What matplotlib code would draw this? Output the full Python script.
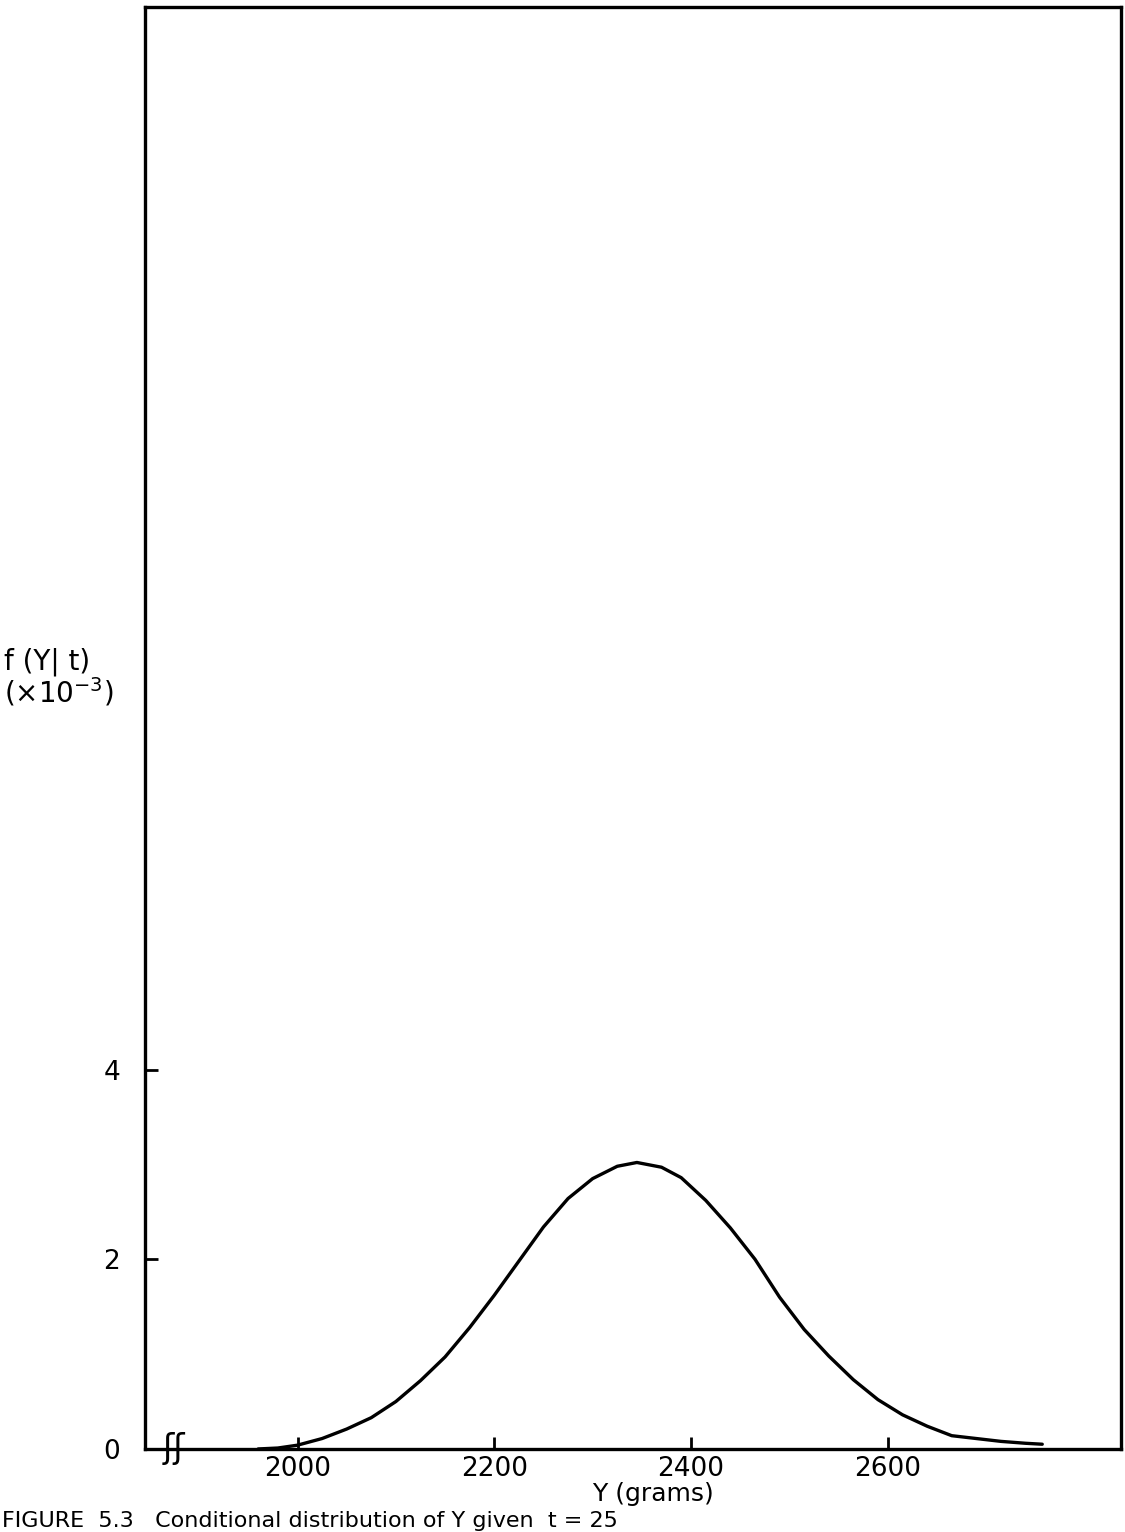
import matplotlib.pyplot as plt

# values (Y in grams, density x 10^-3)
y_grams = [1960, 1980, 2000, 2025, 2050, 2075, 2100, 2125, 2150, 2175,
           2200, 2225, 2250, 2275, 2300, 2325, 2345, 2370, 2390, 2415,
           2440, 2465, 2490, 2515, 2540, 2565, 2590, 2615, 2640, 2665,
           2690, 2715, 2740, 2757]
density = [0.0, 0.01, 0.04, 0.11, 0.21, 0.33, 0.50, 0.72, 0.97, 1.28,
           1.62, 1.98, 2.34, 2.64, 2.85, 2.98, 3.02, 2.97, 2.86, 2.62,
           2.33, 2.0, 1.6, 1.26, 0.98, 0.73, 0.52, 0.36, 0.24, 0.14,
           0.11, 0.08, 0.06, 0.05]

x_ticks = [2000, 2200, 2400, 2600]
y_ticks = [0, 2, 4]

plt.rcParams['font.family'] = ['DejaVu Sans']

fig = plt.figure(figsize=(11.25, 15.32), dpi=100)
ax = fig.add_axes([0.1289, 0.0542, 0.8675, 0.9412])

ax.plot(y_grams, density, color='black', lw=2.4,
        solid_capstyle='round', solid_joinstyle='round')

ax.set_xlim(1845, 2837)
ax.set_ylim(0, 15.2)

ax.set_xticks(x_ticks)
ax.set_yticks(y_ticks)
ax.tick_params(direction='in', length=9, width=2, labelsize=19)
ax.tick_params(axis='x', pad=5)
ax.tick_params(axis='y', pad=18)
for s in ax.spines.values():
    s.set_linewidth(2.4)

# axis break mark on the x axis
ax.text(0.03, 0.0, 'ʃʃ', transform=ax.transAxes, fontsize=24,
        ha='center', va='center')

fig.text(0.58, 0.0245, 'Y (grams)', fontsize=18, ha='center', va='center')

fig.text(0.004, 0.568, 'f (Y| t)', fontsize=20, ha='left', va='center')
fig.text(0.004, 0.548, r'(×10$^{\mathregular{-3}}$)', fontsize=20,
         ha='left', va='center')

# caption at the foot of the page
fig.text(0.002, 0.0005, 'FIGURE  5.3   Conditional distribution of Y given  t = 25',
         fontsize=16, ha='left', va='bottom')

fig.savefig('out.png', dpi=100)
